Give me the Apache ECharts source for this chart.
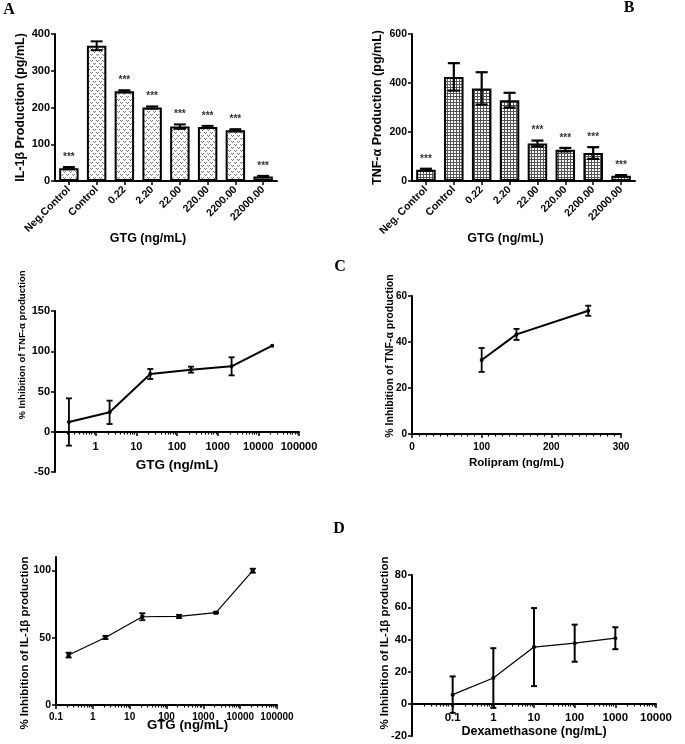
<!DOCTYPE html>
<html>
<head>
<meta charset="utf-8">
<script src="https://cdn.jsdelivr.net/npm/echarts@6/dist/echarts.min.js"></script>
<style>html,body{margin:0;padding:0;background:#fff}#main{width:685px;height:744px}</style>
</head>
<body>
<div id="main"></div>
<script>
// ---------- DATA ----------
const catsA = ['Neg.Control', 'Control', '0.22', '2.20', '22.00', '220.00', '2200.00', '22000.00'];
const il1bProd = [35, 368, 244, 200, 148, 147, 138, 12];
const il1bProdErr = [3, 12, 3, 3, 6, 3, 3, 2];
const il1bSig = ['***', '', '***', '***', '***', '***', '***', '***'];

const catsB = ['Neg. Control', 'Control', '0.22', '2.20', '22.00', '220.00', '2200.00', '22000.00'];
const tnfProd = [46, 425, 378, 330, 153, 128, 114, 21];
const tnfProdErr = [4, 56, 66, 30, 12, 7, 24, 3];
const tnfSig = ['***', '', '', '', '***', '***', '***', '***'];

const gtgDoses = [0.22, 2.2, 22, 220, 2200, 22000];
const tnfInhib = [12.4, 24.4, 71.9, 77.3, 81.4, 107];
const tnfInhibErr = [29.3, 14.5, 6.2, 3.7, 11.2, 0];

const roliDoses = [100, 150, 253];
const roliInhib = [32.2, 43.3, 53.6];
const roliInhibErr = [5.2, 2.4, 2.2];

const il1bInhib = [37.1, 50.2, 65.6, 65.8, 68.6, 99.8];
const il1bInhibErr = [1.8, 1.2, 2.6, 1.2, 0.5, 1.5];

const dexDoses = [0.1, 1, 10, 100, 1000];
const dexInhib = [5.8, 16.1, 35.3, 37.7, 40.8];
const dexInhibErr = [11.3, 18.5, 24.2, 11.5, 6.8];

const il1bInhibTicks = [0, 50, 100];
const panelLetters = ['A', 'B', 'C', 'D'];

// ---------- STYLE HELPERS ----------
const FONT = 'Liberation Sans';
function dotPattern() {
  const c = document.createElement('canvas'); c.width = 6; c.height = 6;
  const g = c.getContext('2d');
  g.fillStyle = '#fff'; g.fillRect(0, 0, 6, 6);
  g.fillStyle = '#7a7a7a';
  g.fillRect(0, 0, 1, 1); g.fillRect(1, 1, 1, 1); g.fillRect(2, 0, 1, 1);
  g.fillRect(3, 3, 1, 1); g.fillRect(4, 4, 1, 1); g.fillRect(5, 3, 1, 1);
  return c;
}
function gridPattern() {
  const c = document.createElement('canvas'); c.width = 3; c.height = 3;
  const g = c.getContext('2d');
  g.fillStyle = '#fff'; g.fillRect(0, 0, 3, 3);
  g.fillStyle = '#555';
  g.fillRect(0, 0, 3, 1); g.fillRect(0, 0, 1, 3);
  return c;
}
const axisLine = { show: true, onZero: false, lineStyle: { color: '#000', width: 2 } };
const axisTick = { show: true, length: 4, lineStyle: { color: '#000', width: 1.5 } };
function lbl(size, extra) { return Object.assign({ color: '#000', fontFamily: FONT, fontWeight: 'bold', fontSize: size }, extra || {}); }
function nm(size, pad) { return { color: '#000', fontFamily: FONT, fontWeight: 'bold', fontSize: size, padding: pad || 0 }; }

function errRender(capHalf, lw, sig) {
  return function (params, api) {
    const x = api.value(0), y = api.value(1), e = api.value(2);
    const hi = api.coord([x, y + e]), lo = api.coord([x, y - e]);
    const ch = [];
    const st = { stroke: '#000', lineWidth: lw };
    if (e > 0) {
      ch.push({ type: 'line', shape: { x1: hi[0], y1: hi[1], x2: lo[0], y2: lo[1] }, style: st });
      ch.push({ type: 'line', shape: { x1: hi[0] - capHalf, y1: hi[1], x2: hi[0] + capHalf, y2: hi[1] }, style: st });
      ch.push({ type: 'line', shape: { x1: lo[0] - capHalf, y1: lo[1], x2: lo[0] + capHalf, y2: lo[1] }, style: st });
    }
    if (sig && sig[params.dataIndex]) {
      ch.push({ type: 'text', style: { text: sig[params.dataIndex], x: hi[0], y: hi[1] - 5, align: 'center', verticalAlign: 'bottom', fill: '#333', font: 'bold 10px ' + FONT } });
    }
    return { type: 'group', children: ch };
  };
}
function zip3(a, b, c) { return a.map((v, i) => [v, b[i], c[i]]); }
function idxZip(b, c) { return b.map((v, i) => [i, v, c[i]]); }

const chart = echarts.init(document.getElementById('main'));

const G = (left, top, width, height) => ({ left, top, width, height, outerBoundsMode: 'none', containLabel: false });
const grids = [
  G(55, 34, 222, 147),   // 0 A
  G(412, 34, 223, 147),  // 1 B
  G(55, 311, 244, 121),  // 2 C left (0..150)
  G(412, 296, 209, 138), // 3 C right
  G(56, 557, 221, 148),  // 4 D left
  G(412, 575, 244, 129), // 5 D right (0..80)
  G(55, 432, 244, 40),   // 6 C left below zero
  G(412, 704, 244, 32)   // 7 D right below zero
];

function catX(i, cats, nameSize) {
  return { gridIndex: i, type: 'category', data: cats, axisLine, boundaryGap: true,
    axisTick: Object.assign({ alignWithLabel: true }, axisTick),
    axisLabel: lbl(10.5, { rotate: 45, margin: 7, interval: 0 }),
    name: 'GTG (ng/mL)', nameLocation: 'middle', nameGap: 51, nameMoveOverlap: false,
    nameTextStyle: nm(nameSize, [0, 36, 0, 0]) };
}
function logX(i, min, max, name, hideMin, nameGap, labelSize, nameSize, margin, pad) {
  return { gridIndex: i, type: 'log', logBase: 10, min, max, splitNumber: 6,
    axisLine, axisTick,
    minorTick: { show: true, splitNumber: 9, length: 2.5, lineStyle: { color: '#000', width: 1.2 } },
    splitLine: { show: false }, minorSplitLine: { show: false },
    axisLabel: lbl(labelSize, { showMinLabel: !hideMin, margin, formatter: v => String(v) }),
    name, nameLocation: 'middle', nameGap, nameMoveOverlap: false, nameTextStyle: nm(nameSize, pad) };
}
function hiddenX(i, min, max) {
  return { gridIndex: i, type: 'log', logBase: 10, min, max, show: false };
}
function valY(i, min, max, interval, name, nameGap, labelSize, nameSize, pad, extra) {
  return Object.assign({ gridIndex: i, type: 'value', min, max, interval, axisLine, axisTick,
    splitLine: { show: false },
    axisLabel: lbl(labelSize, { margin: 5 }),
    name, nameLocation: 'middle', nameGap, nameMoveOverlap: false, nameTextStyle: nm(nameSize, pad) }, extra || {});
}
function lowerY(i, min, labelSize) {
  return { gridIndex: i, type: 'value', min, max: 0, interval: -min, axisLine, axisTick,
    splitLine: { show: false }, axisLabel: lbl(labelSize, { margin: 5, showMaxLabel: false }) };
}

const option = {
  animation: false,
  backgroundColor: '#fff',
  grid: grids,
  xAxis: [
    catX(0, catsA, 12.5),
    catX(1, catsB, 12.5),
    logX(2, 0.1, 100000, 'GTG (ng/mL)', true, 26, 11, 13.5, 9),
    { gridIndex: 3, type: 'value', min: 0, max: 300, interval: 100, axisLine, axisTick,
      minorTick: { show: true, splitNumber: 10, length: 2.5, lineStyle: { color: '#000', width: 1.2 } },
      splitLine: { show: false }, axisLabel: lbl(10, { margin: 8 }),
      name: 'Rolipram (ng/mL)', nameLocation: 'middle', nameGap: 23, nameMoveOverlap: false, nameTextStyle: nm(11.5) },
    logX(4, 0.1, 100000, 'GTG (ng/mL)', false, 13.5, 10, 13.3, 7, [0, 0, 0, 42]),
    logX(5, 0.01, 10000, 'Dexamethasone (ng/mL)', true, 21, 11.5, 12.5, 8),
    hiddenX(6, 0.1, 100000),
    hiddenX(7, 0.01, 10000)
  ],
  yAxis: [
    valY(0, 0, 400, 100, 'IL-1β Production (pg/mL)', 28, 11, 12.5),
    valY(1, 0, 600, 200, 'TNF-α Production (pg/mL)', 28, 10.5, 12.5),
    valY(2, 0, 150, 50, '% Inhibition of TNF-α production', 28, 11, 9.6, [0, 0, 0, 53]),
    valY(3, 0, 60, 20, '% Inhibition of TNF-α production', 16, 10, 10.5, [0, 0, 0, 18]),
    valY(4, 0, 110, 50, '% Inhibition of IL-1β production', 25, 10.5, 11.5, [0, 24, 0, 0], {
      axisTick: Object.assign({ customValues: il1bInhibTicks }, axisTick),
      axisLabel: lbl(10.5, { margin: 5, customValues: il1bInhibTicks }) }),
    valY(5, 0, 80, 20, '% Inhibition of IL-1β production', 21, 11, 11.5, [0, 7, 0, 0]),
    lowerY(6, -50, 11),
    lowerY(7, -20, 11)
  ],
  series: [
    { type: 'bar', xAxisIndex: 0, yAxisIndex: 0, data: il1bProd, barWidth: '70%',
      itemStyle: { color: { image: dotPattern(), repeat: 'repeat' }, borderColor: '#000', borderWidth: 2 } },
    { type: 'custom', xAxisIndex: 0, yAxisIndex: 0, data: idxZip(il1bProd, il1bProdErr), renderItem: errRender(6, 2, il1bSig), z: 5 },
    { type: 'bar', xAxisIndex: 1, yAxisIndex: 1, data: tnfProd, barWidth: '70%',
      itemStyle: { color: { image: gridPattern(), repeat: 'repeat' }, borderColor: '#000', borderWidth: 2 } },
    { type: 'custom', xAxisIndex: 1, yAxisIndex: 1, data: idxZip(tnfProd, tnfProdErr), renderItem: errRender(6, 2.2, tnfSig), z: 5 },

    { type: 'line', xAxisIndex: 2, yAxisIndex: 2, data: gtgDoses.map((d, i) => [d, tnfInhib[i]]),
      symbol: 'circle', symbolSize: 4, itemStyle: { color: '#000' }, lineStyle: { color: '#000', width: 2 } },
    { type: 'custom', xAxisIndex: 2, yAxisIndex: 2, data: zip3(gtgDoses, tnfInhib, tnfInhibErr), renderItem: errRender(3, 1.8), z: 5, clip: false },

    { type: 'line', xAxisIndex: 3, yAxisIndex: 3, data: roliDoses.map((d, i) => [d, roliInhib[i]]),
      symbol: 'circle', symbolSize: 4, itemStyle: { color: '#000' }, lineStyle: { color: '#000', width: 2 } },
    { type: 'custom', xAxisIndex: 3, yAxisIndex: 3, data: zip3(roliDoses, roliInhib, roliInhibErr), renderItem: errRender(3, 1.8), z: 5 },

    { type: 'line', xAxisIndex: 4, yAxisIndex: 4, data: gtgDoses.map((d, i) => [d, il1bInhib[i]]),
      symbol: 'rect', symbolSize: 4, itemStyle: { color: '#000' }, lineStyle: { color: '#000', width: 1.2 } },
    { type: 'custom', xAxisIndex: 4, yAxisIndex: 4, data: zip3(gtgDoses, il1bInhib, il1bInhibErr), renderItem: errRender(3, 1.8), z: 5 },

    { type: 'line', xAxisIndex: 5, yAxisIndex: 5, data: dexDoses.map((d, i) => [d, dexInhib[i]]),
      symbol: 'circle', symbolSize: 4, itemStyle: { color: '#000' }, lineStyle: { color: '#000', width: 1.2 } },
    { type: 'custom', xAxisIndex: 5, yAxisIndex: 5, data: zip3(dexDoses, dexInhib, dexInhibErr), renderItem: errRender(3, 2), z: 5, clip: false }
  ],
  graphic: [
    { type: 'text', style: { x: 9, y: 10, align: 'center', verticalAlign: 'middle', text: panelLetters[0], font: 'bold 16px "Liberation Serif"', fill: '#000' } },
    { type: 'text', style: { x: 629, y: 8, align: 'center', verticalAlign: 'middle', text: panelLetters[1], font: 'bold 16px "Liberation Serif"', fill: '#000' } },
    { type: 'text', style: { x: 340, y: 267, align: 'center', verticalAlign: 'middle', text: panelLetters[2], font: 'bold 16px "Liberation Serif"', fill: '#000' } },
    { type: 'text', style: { x: 339, y: 529, align: 'center', verticalAlign: 'middle', text: panelLetters[3], font: 'bold 16px "Liberation Serif"', fill: '#000' } }
  ]
};
chart.setOption(option);
</script>
</body>
</html>
